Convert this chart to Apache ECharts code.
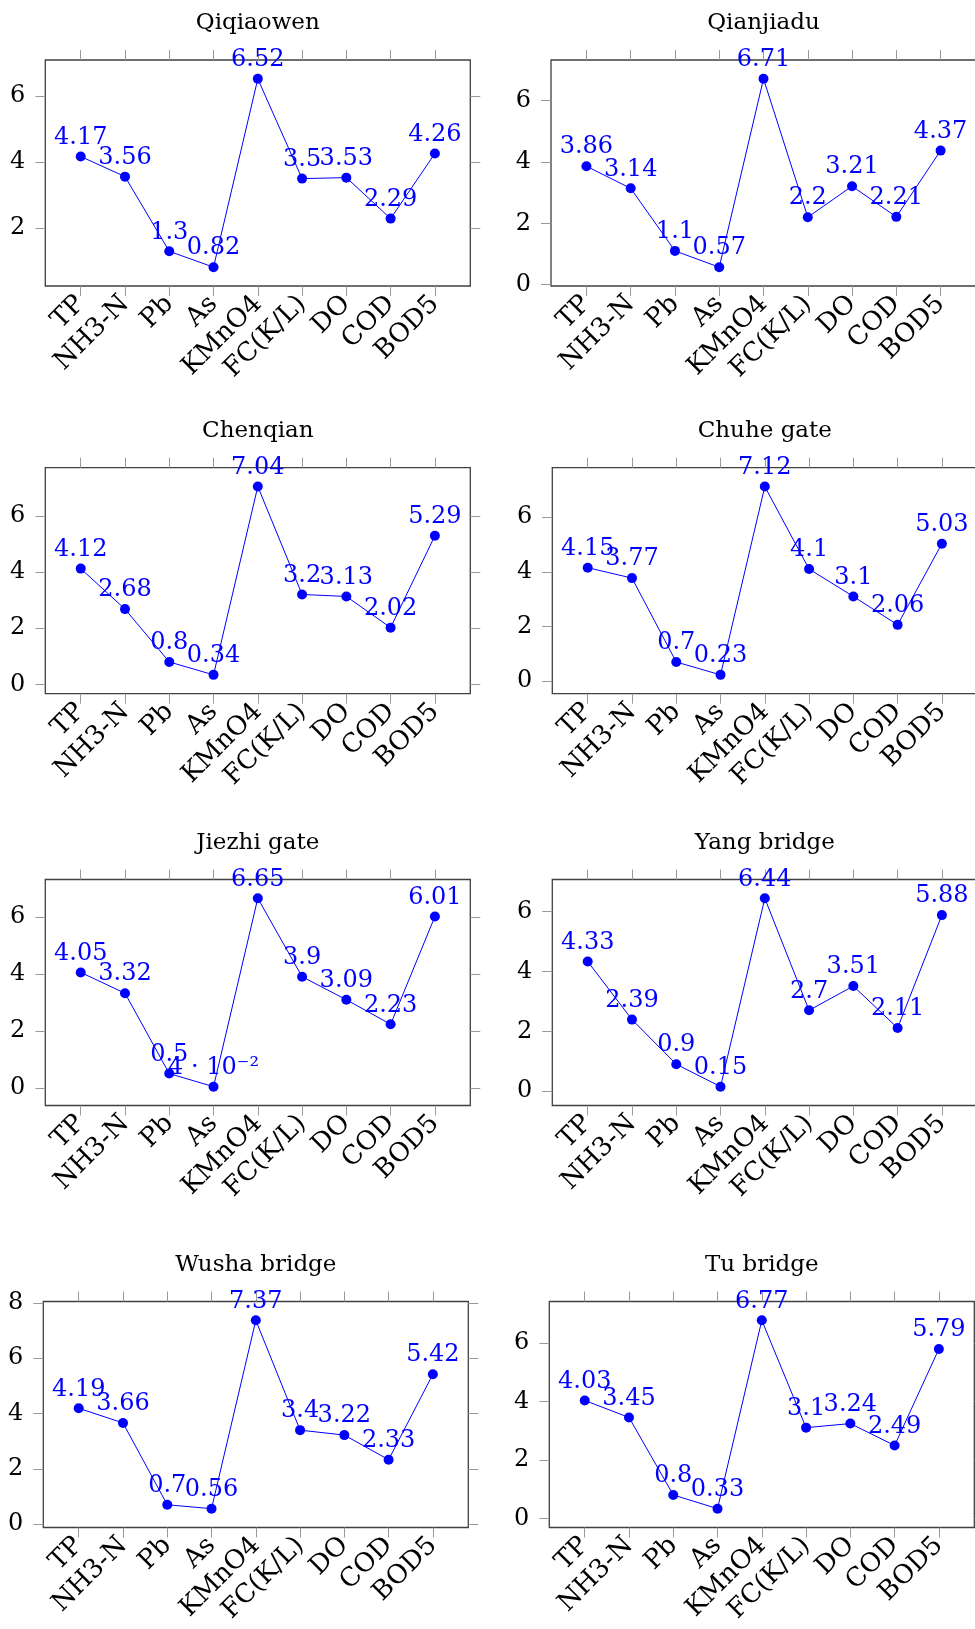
<!DOCTYPE html>
<html>
<head>
<meta charset="utf-8">
<script src="https://cdn.jsdelivr.net/npm/echarts@6/dist/echarts.min.js"></script>
<style>
html,body{margin:0;padding:0;background:#fff;}
#chart{width:975px;height:1629px;}
</style>
</head>
<body>
<div id="chart"></div>
<script>
// ---- data ----
const categories = ['TP', 'NH3-N', 'Pb', 'As', 'KMnO4', 'FC(K/L)', 'DO', 'COD', 'BOD5'];
const titles = ['Qiqiaowen', 'Qianjiadu', 'Chenqian', 'Chuhe gate', 'Jiezhi gate', 'Yang bridge', 'Wusha bridge', 'Tu bridge'];
const qiqiaowen  = [4.17, 3.56, 1.3, 0.82, 6.52, 3.5, 3.53, 2.29, 4.26];
const qianjiadu  = [3.86, 3.14, 1.1, 0.57, 6.71, 2.2, 3.21, 2.21, 4.37];
const chenqian   = [4.12, 2.68, 0.8, 0.34, 7.04, 3.2, 3.13, 2.02, 5.29];
const chuheGate  = [4.15, 3.77, 0.7, 0.23, 7.12, 4.1, 3.1, 2.06, 5.03];
const jiezhiGate = [4.05, 3.32, 0.5, 0.04, 6.65, 3.9, 3.09, 2.23, 6.01];
const yangBridge = [4.33, 2.39, 0.9, 0.15, 6.44, 2.7, 3.51, 2.11, 5.88];
const wushaBridge= [4.19, 3.66, 0.7, 0.56, 7.37, 3.4, 3.22, 2.33, 5.42];
const tuBridge   = [4.03, 3.45, 0.8, 0.33, 6.77, 3.1, 3.24, 2.49, 5.79];
const seriesValues = [qiqiaowen, qianjiadu, chenqian, chuheGate, jiezhiGate, yangBridge, wushaBridge, tuBridge];
const yTickValues = [0, 2, 4, 6, 8];

// ---- layout (frame boxes) ----
const panels = [
  {left: 45.3, top: 60},   {left: 551, top: 60},
  {left: 45.3, top: 467.7}, {left: 552.3, top: 467.7},
  {left: 45.3, top: 879.5}, {left: 552.3, top: 879.5},
  {left: 43.3, top: 1301.5}, {left: 549.3, top: 1301.5}
];
const W = 425, H = 226;
const FONT = 'DejaVu Serif';
const catIdx = categories.map((c, i) => i);

function fmtValue(v) {
  if (v > 0 && v < 0.1) {
    const e = Math.floor(Math.log10(v));
    const m = Math.round(v / Math.pow(10, e));
    const sup = {'-': '\u207B', '0': '\u2070', '1': '\u00B9', '2': '\u00B2', '3': '\u00B3', '4': '\u2074', '5': '\u2075', '6': '\u2076', '7': '\u2077', '8': '\u2078', '9': '\u2079'};
    return m + ' \u00B7 10' + String(e).split('').map(ch => sup[ch]).join('');
  }
  return String(v);
}

const option = {
  animation: false,
  backgroundColor: '#fff',
  title: [], grid: [], xAxis: [], yAxis: [], series: []
};

seriesValues.forEach((vals, i) => {
  const p = panels[i];
  const dmin = Math.min(...vals), dmax = Math.max(...vals);
  const ymin = dmin - 0.1 * (dmax - dmin);
  const ymax = dmax + 0.1 * (dmax - dmin);
  const yt = yTickValues.filter(t => t >= ymin && t <= ymax);

  option.title.push({
    text: titles[i], left: p.left + W / 2, top: p.top - 48, textAlign: 'center', padding: 0,
    textStyle: {fontFamily: FONT, fontSize: 23, fontWeight: 'normal', color: '#000'}
  });
  option.grid.push({
    left: p.left, top: p.top, width: W, height: H,
    show: true, borderColor: '#404040', borderWidth: 1.3, backgroundColor: 'transparent',
    containLabel: false, outerBoundsMode: 'none'
  });
  const tickStyle = {color: '#999', width: 1};
  option.xAxis.push({
    type: 'value', gridIndex: i, position: 'bottom', min: -0.8, max: 8.8,
    splitLine: {show: false}, axisLine: {show: false, onZero: false},
    axisTick: {show: true, inside: false, length: 10, customValues: catIdx, lineStyle: tickStyle},
    axisLabel: {
      show: true, customValues: catIdx, rotate: 45, margin: 14,
      formatter: v => categories[Math.round(v)],
      fontFamily: FONT, fontSize: 26, color: '#000'
    }
  });
  option.xAxis.push({
    type: 'value', gridIndex: i, position: 'top', min: -0.8, max: 8.8,
    splitLine: {show: false}, axisLine: {show: false, onZero: false},
    axisTick: {show: true, inside: false, length: 10, customValues: catIdx, lineStyle: tickStyle},
    axisLabel: {show: false}
  });
  option.yAxis.push({
    type: 'value', gridIndex: i, position: 'left', min: ymin, max: ymax,
    splitLine: {show: false}, axisLine: {show: false, onZero: false},
    axisTick: {show: true, inside: false, length: 10, customValues: yt, lineStyle: tickStyle},
    axisLabel: {show: true, customValues: yt, margin: 20, fontFamily: FONT, fontSize: 24, color: '#000'}
  });
  option.yAxis.push({
    type: 'value', gridIndex: i, position: 'right', min: ymin, max: ymax,
    splitLine: {show: false}, axisLine: {show: false, onZero: false},
    axisTick: {show: true, inside: false, length: 10, customValues: yt, lineStyle: tickStyle},
    axisLabel: {show: false}
  });
  option.series.push({
    type: 'line', xAxisIndex: 2 * i, yAxisIndex: 2 * i,
    data: vals.map((v, k) => [k, v]),
    symbol: 'circle', symbolSize: 10,
    lineStyle: {color: '#0000ff', width: 1},
    itemStyle: {color: '#0000ff'},
    label: {
      show: true, position: 'top', distance: 2,
      color: '#0000ff', fontFamily: FONT, fontSize: 24,
      formatter: prm => fmtValue(prm.value[1])
    },
    emphasis: {disabled: true},
    silent: true
  });
});

const chart = echarts.init(document.getElementById('chart'), null, {renderer: 'canvas'});
chart.setOption(option);
</script>
</body>
</html>
